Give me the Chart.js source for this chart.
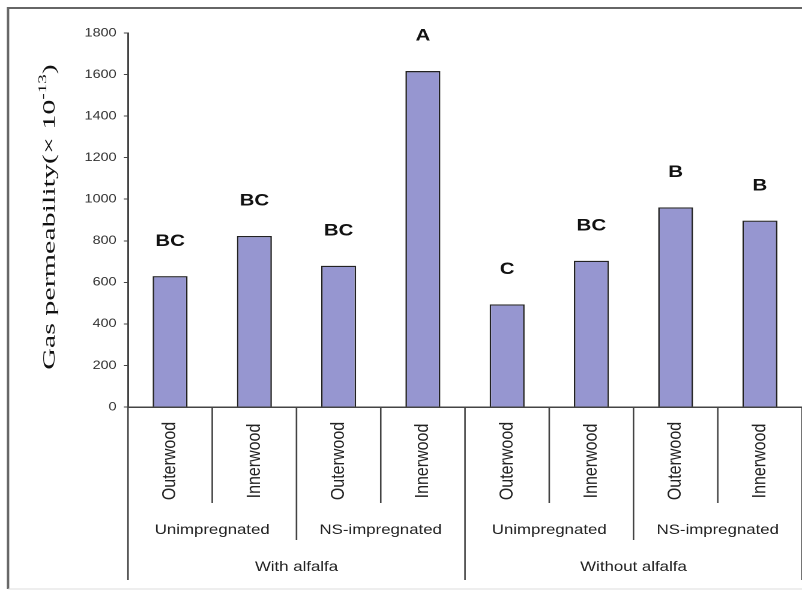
<!DOCTYPE html>
<html>
<head>
<meta charset="utf-8">
<script src="https://cdn.jsdelivr.net/npm/chart.js@4.4.1/dist/chart.umd.min.js"></script>
<style>
  html, body { margin: 0; padding: 0; background: #fff; overflow: hidden; }
  #wrap { width: 668px; height: 593px; transform: scaleX(1.2006); transform-origin: 0 0; }
</style>
</head>
<body>
<div id="wrap"><canvas id="chart" width="668" height="593"></canvas></div>
<script>
// data
var woodLabels = ['Outerwood', 'Innerwood', 'Outerwood', 'Innerwood', 'Outerwood', 'Innerwood', 'Outerwood', 'Innerwood'];
var treatmentLabels = ['Unimpregnated', 'NS-impregnated', 'Unimpregnated', 'NS-impregnated'];
var conditionLabels = ['With alfalfa', 'Without alfalfa'];
var permeability = [630, 823, 680, 1617, 494, 704, 961, 897];
var letters = ['BC', 'BC', 'BC', 'A', 'C', 'BC', 'B', 'B'];
var yMax = 1800;
var yStep = 200;

// frame round the whole picture
var framePlugin = {
    id: 'frame',
    beforeDraw: function(chart) {
        var ctx = chart.ctx;
        ctx.save();
        ctx.strokeStyle = '#666';
        ctx.lineWidth = 2;
        ctx.beginPath();
        ctx.moveTo(6.7, 589);
        ctx.lineTo(6.7, 8);
        ctx.lineTo(668, 8);
        ctx.stroke();
        ctx.strokeStyle = '#ddd';
        ctx.lineWidth = 1;
        ctx.beginPath();
        ctx.moveTo(6.7, 589);
        ctx.lineTo(668, 589);
        ctx.stroke();
        ctx.restore();
    }
};

// significance letters over the bars
var lettersPlugin = {
    id: 'letters',
    afterDatasetsDraw: function(chart) {
        var ctx = chart.ctx;
        var meta = chart.getDatasetMeta(0);
        ctx.save();
        ctx.font = 'bold 17px Arial, "Liberation Sans", sans-serif';
        ctx.fillStyle = '#111';
        ctx.textAlign = 'center';
        ctx.textBaseline = 'middle';
        meta.data.forEach(function(bar, i) {
            ctx.fillText(letters[i], bar.x, bar.y - 35);
        });
        ctx.restore();
    }
};

// y axis title with superscript
var yTitlePlugin = {
    id: 'yTitle',
    afterDraw: function(chart) {
        var ctx = chart.ctx;
        var main = 'Gas permeability(\u00d7 10';
        var sup = '-13';
        var end = ')';
        var big = '30px "Liberation Serif", "Times New Roman", serif';
        var small = '19px "Liberation Serif", "Times New Roman", serif';
        ctx.save();
        ctx.translate(41.6, 217);
        ctx.rotate(-Math.PI / 2);
        ctx.scale(1, 0.5);
        ctx.fillStyle = '#111';
        ctx.textBaseline = 'middle';
        ctx.font = big;
        var w1 = ctx.measureText(main).width;
        var w3 = ctx.measureText(end).width;
        ctx.font = small;
        var w2 = ctx.measureText(sup).width;
        var x = -(w1 + w2 + w3) / 2;
        ctx.font = big;
        ctx.fillText(main, x, 0);
        ctx.font = small;
        ctx.fillText(sup, x + w1, -11);
        ctx.font = big;
        ctx.fillText(end, x + w1 + w2, 0);
        ctx.restore();
    }
};

// three level category axis under the bars
var groupAxisPlugin = {
    id: 'groupAxis',
    afterDraw: function(chart) {
        var ctx = chart.ctx;
        var xs = chart.scales.x;
        var area = chart.chartArea;
        var n = woodLabels.length;
        var w = (area.right - area.left) / n;
        var y0 = area.bottom;
        ctx.save();
        ctx.strokeStyle = '#444';
        ctx.lineWidth = 1.3;
        for (var b = 0; b <= n; b++) {
            var bx = area.left + b * w;
            var len = 96;
            if (b % 4 === 0) len = 173;
            else if (b % 2 === 0) len = 133;
            ctx.beginPath();
            ctx.moveTo(bx, y0);
            ctx.lineTo(bx, y0 + len);
            ctx.stroke();
        }
        ctx.fillStyle = '#222';
        ctx.textAlign = 'center';
        ctx.textBaseline = 'middle';
        ctx.font = '16px Arial, "Liberation Sans", sans-serif';
        woodLabels.forEach(function(lbl, i) {
            ctx.save();
            ctx.translate(xs.getPixelForValue(i), 461);
            ctx.rotate(-Math.PI / 2);
            ctx.fillText(lbl, 0, 0);
            ctx.restore();
        });
        ctx.font = '14px Arial, "Liberation Sans", sans-serif';
        treatmentLabels.forEach(function(lbl, i) {
            ctx.fillText(lbl, area.left + (i * 2 + 1) * w, 530);
        });
        conditionLabels.forEach(function(lbl, i) {
            ctx.fillText(lbl, area.left + (i * 4 + 2) * w, 567);
        });
        ctx.restore();
    }
};

var ctx = document.getElementById('chart');
var myChart = new Chart(ctx, {
    type: 'bar',
    data: {
        labels: woodLabels,
        datasets: [{
            label: 'Gas permeability',
            data: permeability,
            backgroundColor: '#9696d0',
            borderColor: '#222',
            borderWidth: 1.3,
            categoryPercentage: 1,
            barPercentage: 0.415
        }]
    },
    options: {
        responsive: false,
        animation: false,
        devicePixelRatio: 2,
        layout: { padding: { top: 33, right: 0, bottom: 0, left: 0 } },
        plugins: {
            legend: { display: false },
            tooltip: { enabled: false }
        },
        scales: {
            x: {
                grid: { display: false },
                ticks: { display: false },
                border: { display: true, color: '#444', width: 1.5 },
                afterFit: function(scale) { scale.height = 186; }
            },
            y: {
                min: 0,
                max: yMax,
                ticks: {
                    stepSize: yStep,
                    color: '#333',
                    padding: 6,
                    font: { family: 'Arial, "Liberation Sans", sans-serif', size: 12 },
                    callback: function(value) { return String(value); }
                },
                grid: { drawOnChartArea: false, drawTicks: true, tickLength: 3.5, color: '#444' },
                border: { display: true, color: '#444', width: 1.5 },
                afterFit: function(scale) { scale.width = 106.6; }
            }
        }
    },
    plugins: [framePlugin, lettersPlugin, yTitlePlugin, groupAxisPlugin]
});
</script>
</body>
</html>
